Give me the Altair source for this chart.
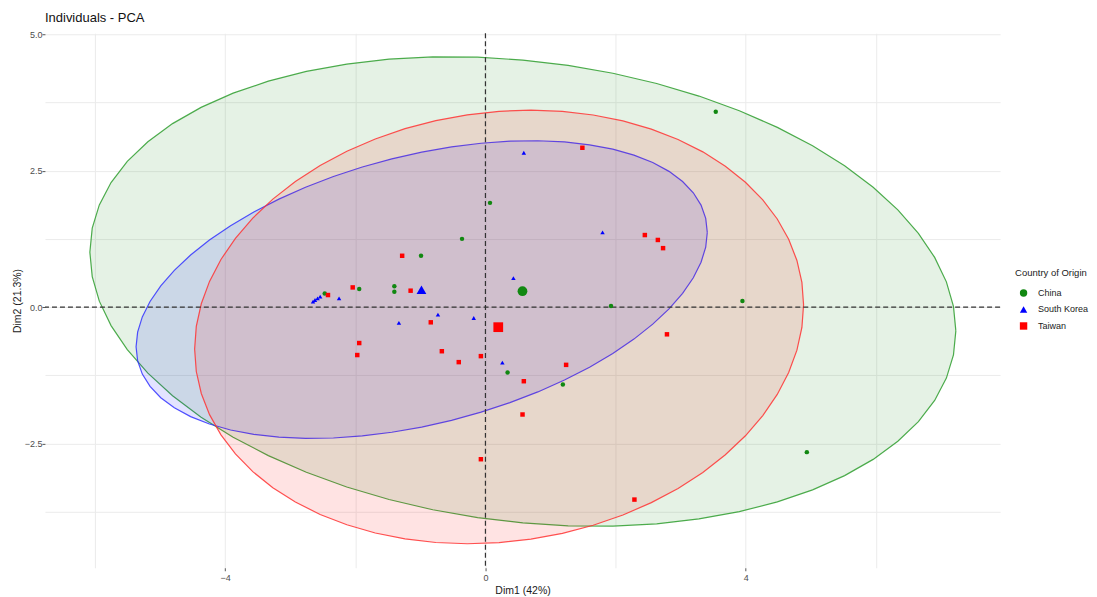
import altair as alt
import numpy as np
import pandas as pd

countries = ["China", "South Korea", "Taiwan"]
point_colors = ["#118811", "#0000ff", "#ff0000"]
ellipse_colors = ["#2e9e2e", "#3333ff", "#ff3333"]
shapes = ["circle", "triangle-up", "square"]

china_x = [-0.36, -0.99, -1.94, -1.40, -1.40, -2.47, 0.07, 3.54, 3.95, 1.93, 0.34, 1.19, 4.94]
china_y = [1.25, 0.94, 0.33, 0.38, 0.28, 0.25, 1.91, 3.58, 0.11, 0.02, -1.20, -1.42, -2.66]

korea_x = [-2.65, -2.58, -2.54, -2.62, -2.25, 0.43, -0.73, -0.18, -1.33, 0.59, 1.80, 0.26]
korea_y = [0.10, 0.16, 0.19, 0.13, 0.16, 0.53, -0.14, -0.20, -0.29, 2.83, 1.37, -1.02]

taiwan_x = [-1.28, -2.04, -1.15, -2.42, -0.84, -1.94, -1.97, -0.67, -0.07, -0.41,
            0.59, 1.24, 0.57, -0.07, 2.29, 1.49, 2.45, 2.65, 2.73, 2.79]
taiwan_y = [0.94, 0.36, 0.30, 0.22, -0.28, -0.66, -0.88, -0.81, -0.90, -1.01,
            -1.36, -1.06, -1.97, -2.79, -3.53, 2.92, 1.32, 1.23, 1.08, -0.50]

# concentration ellipses: centre and shape matrix
ell_cx = [0.575, -0.98, 0.21]
ell_cy = [0.285, 0.32, -0.365]
ell_sxx = [44.29, 19.27, 21.9]
ell_syy = [18.53, 7.45, 15.8]
ell_sxy = [-4.8, 4.6, 1.9]

x_domain = [-6.77, 7.91]
y_domain = [-4.78, 5.02]
x_ticks = [-6, -4, -2, 0, 2, 4, 6]
y_ticks = [-3.75, -2.5, -1.25, 0, 1.25, 2.5, 3.75, 5.0]

pts = pd.concat([
    pd.DataFrame({"x": china_x, "y": china_y, "country": "China"}),
    pd.DataFrame({"x": korea_x, "y": korea_y, "country": "South Korea"}),
    pd.DataFrame({"x": taiwan_x, "y": taiwan_y, "country": "Taiwan"}),
], ignore_index=True)

rows = []
t = np.linspace(0, 2 * np.pi, 61)
for i, c in enumerate(countries):
    m = np.array([[ell_sxx[i], ell_sxy[i]], [ell_sxy[i], ell_syy[i]]])
    L = np.linalg.cholesky(m)
    xy = L @ np.vstack([np.cos(t), np.sin(t)])
    for k in range(len(t)):
        rows.append({"x": ell_cx[i] + xy[0, k], "y": ell_cy[i] + xy[1, k], "k": k, "country": c})
ell = pd.DataFrame(rows)

FONT = "Liberation Sans"

xscale = alt.Scale(domain=x_domain, nice=False, zero=False)
yscale = alt.Scale(domain=y_domain, nice=False, zero=False)

xaxis = alt.Axis(
    values=x_ticks, labelExpr="datum.value % 4 == 0 ? datum.label : ''",
    grid=True, gridColor="#ebebeb", domain=False,
    tickOpacity={"condition": {"test": "datum.value % 4 == 0", "value": 1}, "value": 0},
    tickColor="#555555", tickSize=3, labelColor="#4d4d4d", labelFontSize=9,
    labelFont=FONT, titleFont=FONT, titleFontSize=10.5, titleFontWeight="normal",
    titleColor="#1a1a1a", labelPadding=3, titlePadding=3,
)
yaxis = alt.Axis(
    values=y_ticks, format=".1f",
    labelExpr="abs(datum.value % 2.5) < 0.001 ? datum.label : ''",
    grid=True, gridColor="#ebebeb", domain=False,
    tickOpacity={"condition": {"test": "abs(datum.value % 2.5) < 0.001", "value": 1}, "value": 0},
    tickColor="#555555", tickSize=3, labelColor="#4d4d4d", labelFontSize=9,
    labelFont=FONT, titleFont=FONT, titleFontSize=10.5, titleFontWeight="normal",
    titleColor="#1a1a1a", labelPadding=0, titlePadding=2,
)

def X(field):
    return alt.X(field, type="quantitative", scale=xscale, axis=xaxis, title="Dim1 (42%)")

def Y(field):
    return alt.Y(field, type="quantitative", scale=yscale, axis=yaxis, title="Dim2 (21.3%)")

legend = alt.Legend(
    title="Country of Origin", orient="none", legendX=971, legendY=235,
    titleFont=FONT, labelFont=FONT, titleFontSize=9.5, labelFontSize=9,
    titleFontWeight="normal", titleColor="#1a1a1a", labelColor="#1a1a1a",
    symbolSize=55, symbolStrokeWidth=0, rowPadding=6.5, titlePadding=11,
    symbolOffset=4, labelOffset=10,
)
color_enc = alt.Color("country:N", scale=alt.Scale(domain=countries, range=point_colors), legend=legend)
shape_enc = alt.Shape("country:N", scale=alt.Scale(domain=countries, range=shapes), legend=legend)

layers = []
for i, c in enumerate(countries):
    layers.append(
        alt.Chart(ell[ell.country == c]).mark_line(
            stroke=ellipse_colors[i], strokeWidth=1.2, fill=point_colors[i],
            fillOpacity=0.11, strokeOpacity=0.85,
        ).encode(x=X("x"), y=Y("y"), order="k:Q")
    )

ref = pd.DataFrame({"v": [0.0]})
vline = alt.Chart(ref).mark_rule(strokeDash=[5, 3], color="#333333", strokeWidth=1.2).encode(x=X("v"))
hline = alt.Chart(ref).mark_rule(strokeDash=[5, 3], color="#333333", strokeWidth=1.2).encode(y=Y("v"))

points = alt.Chart(pts).mark_point(filled=True, opacity=1, size=20).encode(
    x=X("x"), y=Y("y"), color=color_enc, shape=shape_enc
)
means = alt.Chart(pts).mark_point(filled=True, opacity=1, size=95).encode(
    x=X("mean(x)"), y=Y("mean(y)"), color=color_enc, shape=shape_enc
)

chart = alt.layer(*layers, vline, hline, points, means).properties(
    width=956, height=535,
    title=alt.TitleParams("Individuals - PCA", anchor="start", frame="group", fontSize=13,
                          font=FONT, fontWeight="normal", color="#111111", offset=5),
    padding={"left": 4, "top": 4, "right": 0, "bottom": 0},
).configure_view(stroke=None)

chart.save("out.html", embed_options={"renderer": "svg", "actions": False})
